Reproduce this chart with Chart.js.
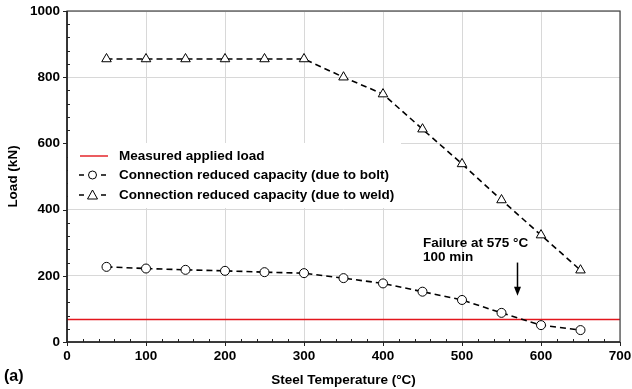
<!DOCTYPE html>
<html><head><meta charset="utf-8">
<script src="https://cdn.jsdelivr.net/npm/chart.js@4"></script>
<style>html,body{margin:0;padding:0;background:#fff}#wrap{width:632px;height:389px}</style>
</head><body><div id="wrap"><canvas id="c" width="632" height="389"></canvas></div>
<script>
const temps = [50,100,150,200,250,300,350,400,450,500,550,600,650];
const boltCapacity = [227,222,218,215,211,208,193,177,152,127,88,51,36];
const weldCapacity = [855,855,855,855,855,855,800,749,643,538,429,323,217];
const appliedLoadX = [0,700];
const appliedLoad = [68,68];
const seriesLabels = ['Measured applied load','Connection reduced capacity (due to bolt)','Connection reduced capacity (due to weld)'];
const xTickLabels = [0,100,200,300,400,500,600,700];
const yTickLabels = [0,200,400,600,800,1000];
const annotationText = ['Failure at 575 °C','100 min'];
const arrowX = 570, arrowFrom = 240, arrowTo = 140;

const F = '"Liberation Sans", Arial, sans-serif';
const FS = 13.5;
const pts = (xs, ys) => xs.map((x,i)=>({x, y: ys[i]}));

const overlay = {
  id:'overlay',
  afterDraw(chart){
    const ctx = chart.ctx, xs = chart.scales.x, ys = chart.scales.y, a = chart.chartArea;
    ctx.save();
    // frame
    ctx.strokeStyle = '#444'; ctx.lineWidth = 1.2;
    ctx.strokeRect(a.left, a.top, a.right-a.left, a.bottom-a.top);
    ctx.strokeStyle = '#222'; ctx.lineWidth = 1.6;
    ctx.beginPath(); ctx.moveTo(a.left, a.top); ctx.lineTo(a.left, a.bottom); ctx.lineTo(a.right, a.bottom); ctx.stroke();
    // ticks
    ctx.lineWidth = 1; ctx.strokeStyle = '#222';
    for (let v=0; v<=700; v+=20){
      const p = Math.round(xs.getPixelForValue(v))+0.5;
      ctx.beginPath();
      if (v%100===0){ ctx.moveTo(p, a.bottom); ctx.lineTo(p, a.bottom+4); }
      else { ctx.moveTo(p, a.bottom); ctx.lineTo(p, a.bottom-3); }
      ctx.stroke();
    }
    for (let v=0; v<=1000; v+=40){
      const p = Math.round(ys.getPixelForValue(v))+0.5;
      ctx.beginPath();
      if (v%200===0){ ctx.moveTo(a.left-4, p); ctx.lineTo(a.left, p); }
      else { ctx.moveTo(a.left, p); ctx.lineTo(a.left+3, p); }
      ctx.stroke();
    }
    // legend
    ctx.fillStyle = '#fff';
    ctx.fillRect(a.left+1, 143, 333, 65);
    const rows = [156, 175, 195];
    const ds = chart.data.datasets;
    ctx.font = 'bold ' + FS + 'px ' + F; ctx.textBaseline = 'middle'; ctx.textAlign = 'left';
    rows.forEach((ry, i) => {
      const d = ds[i];
      ctx.strokeStyle = d.borderColor; ctx.lineWidth = d.borderWidth;
      if (i === 0){
        ctx.beginPath(); ctx.moveTo(80, ry); ctx.lineTo(108, ry); ctx.stroke();
      } else {
        ctx.lineWidth = 1.6;
        ctx.beginPath(); ctx.moveTo(79, ry); ctx.lineTo(84, ry); ctx.moveTo(101, ry); ctx.lineTo(106, ry); ctx.stroke();
        ctx.lineWidth = 1; ctx.fillStyle = '#fff'; ctx.strokeStyle = '#000';
        ctx.beginPath();
        if (i === 1){ ctx.arc(92.5, ry, 4, 0, Math.PI*2); }
        else { ctx.moveTo(92.5, ry-5); ctx.lineTo(97.5, ry+4); ctx.lineTo(87.5, ry+4); ctx.closePath(); }
        ctx.fill(); ctx.stroke();
      }
      ctx.fillStyle = '#000';
      ctx.fillText(d.label, 119, ry);
    });
    // annotation
    ctx.fillStyle = '#000';
    ctx.fillText(annotationText[0], 423, 243);
    ctx.fillText(annotationText[1], 423, 257);
    const ax = Math.round(xs.getPixelForValue(arrowX))+0.5;
    const y1 = ys.getPixelForValue(arrowFrom), y2 = ys.getPixelForValue(arrowTo);
    ctx.strokeStyle = '#000'; ctx.lineWidth = 1.5;
    ctx.beginPath(); ctx.moveTo(ax, y1); ctx.lineTo(ax, y2-6); ctx.stroke();
    ctx.beginPath(); ctx.moveTo(ax, y2); ctx.lineTo(ax-3.5, y2-9); ctx.lineTo(ax+3.5, y2-9); ctx.closePath(); ctx.fill();
    // panel label and axis titles
    ctx.font = 'bold 16px ' + F; ctx.textAlign = 'left';
    ctx.fillText('(a)', 4, 377);
    ctx.font = 'bold ' + FS + 'px ' + F; ctx.textAlign = 'center';
    ctx.fillText('Steel Temperature (°C)', (a.left+a.right)/2, 380);
    ctx.save(); ctx.translate(13, (a.top+a.bottom)/2); ctx.rotate(-Math.PI/2);
    ctx.fillText('Load (kN)', 0, 0); ctx.restore();
    ctx.restore();
  }
};

new Chart(document.getElementById('c'), {
  type: 'line',
  data: {
    datasets: [
      {label: seriesLabels[0], data: pts(appliedLoadX, appliedLoad), borderColor: '#e3161c', borderWidth: 1.4, pointRadius: 0, order: 3},
      {label: seriesLabels[1], data: pts(temps, boltCapacity), borderColor: '#000', borderWidth: 1.6, borderDash: [6,4],
       pointStyle: 'circle', pointRadius: 4.5, pointBackgroundColor: '#fff', pointBorderColor: '#000', pointBorderWidth: 1, order: 1},
      {label: seriesLabels[2], data: pts(temps, weldCapacity), borderColor: '#000', borderWidth: 1.6, borderDash: [6,4],
       pointStyle: 'triangle', pointRadius: 5.5, pointBackgroundColor: '#fff', pointBorderColor: '#000', pointBorderWidth: 1, order: 2}
    ]
  },
  options: {
    responsive: false, animation: false, devicePixelRatio: 1,
    layout: {padding: {top: 0, right: 0, left: 0, bottom: 0}},
    plugins: {legend: {display: false}, tooltip: {enabled: false}},
    scales: {
      x: {type: 'linear', min: 0, max: 700,
        afterBuildTicks: s => { s.ticks = xTickLabels.map(v => ({value: v})); },
        afterFit: s => { s.height = 47; s.paddingRight = 12; s.paddingLeft = 0; },
        grid: {color: '#d8d8d8', lineWidth: 1, drawTicks: false},
        border: {display: false},
        ticks: {color: '#000', padding: 6, font: {family: F, weight: 'bold', size: FS}, maxRotation: 0, callback: v => String(v)}
      },
      y: {min: 0, max: 1000,
        afterBuildTicks: s => { s.ticks = yTickLabels.map(v => ({value: v})); },
        afterFit: s => { s.width = 67; s.paddingTop = 11; s.paddingBottom = 0; },
        grid: {color: '#d8d8d8', lineWidth: 1, drawTicks: false},
        border: {display: false},
        ticks: {color: '#000', padding: 7, font: {family: F, weight: 'bold', size: FS}, callback: v => String(v)}
      }
    }
  },
  plugins: [overlay]
});
</script></body></html>
